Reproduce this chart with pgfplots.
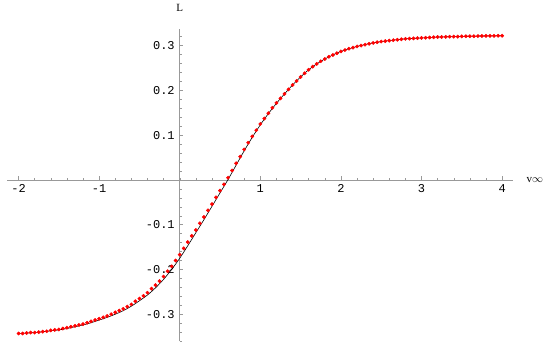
\documentclass[border=0pt]{standalone}
\usepackage{fontspec}
\setmainfont{Liberation Serif}
\setmonofont{Liberation Mono}
\usepackage{pgfplots}
\pgfplotsset{compat=1.18}

% red sample points (step 0.05)
\pgfplotstableread{
x y
-2.00 -0.343
-1.95 -0.343
-1.90 -0.342
-1.85 -0.341
-1.80 -0.341
-1.75 -0.340
-1.70 -0.339
-1.65 -0.338
-1.60 -0.336
-1.55 -0.335
-1.50 -0.334
-1.45 -0.332
-1.40 -0.330
-1.35 -0.328
-1.30 -0.326
-1.25 -0.324
-1.20 -0.322
-1.15 -0.319
-1.10 -0.316
-1.05 -0.313
-1.00 -0.310
-0.95 -0.307
-0.90 -0.304
-0.85 -0.300
-0.80 -0.296
-0.75 -0.292
-0.70 -0.288
-0.65 -0.283
-0.60 -0.278
-0.55 -0.271
-0.50 -0.265
-0.45 -0.259
-0.40 -0.252
-0.35 -0.243
-0.30 -0.235
-0.25 -0.226
-0.20 -0.216
-0.15 -0.204
-0.10 -0.193
-0.05 -0.180
0.00 -0.167
0.05 -0.153
0.10 -0.139
0.15 -0.125
0.20 -0.112
0.25 -0.097
0.30 -0.083
0.35 -0.068
0.40 -0.054
0.45 -0.039
0.50 -0.024
0.55 -0.010
0.60 0.005
0.65 0.021
0.70 0.037
0.75 0.052
0.80 0.068
0.85 0.083
0.90 0.097
0.95 0.111
1.00 0.125
1.05 0.137
1.10 0.149
1.15 0.161
1.20 0.172
1.25 0.182
1.30 0.192
1.35 0.202
1.40 0.212
1.45 0.221
1.50 0.230
1.55 0.238
1.60 0.246
1.65 0.253
1.70 0.259
1.75 0.265
1.80 0.270
1.85 0.275
1.90 0.279
1.95 0.283
2.00 0.287
2.05 0.290
2.10 0.293
2.15 0.2955
2.20 0.298
2.25 0.300
2.30 0.302
2.35 0.304
2.40 0.306
2.45 0.3075
2.50 0.309
2.55 0.310
2.60 0.311
2.65 0.312
2.70 0.313
2.75 0.314
2.80 0.315
2.85 0.3155
2.90 0.316
2.95 0.3165
3.00 0.317
3.05 0.3175
3.10 0.318
3.15 0.3185
3.20 0.319
3.25 0.319
3.30 0.3195
3.35 0.3198
3.40 0.320
3.45 0.320
3.50 0.3205
3.55 0.3208
3.60 0.321
3.65 0.321
3.70 0.3212
3.75 0.3214
3.80 0.3215
3.85 0.3216
3.90 0.3218
3.95 0.3219
4.00 0.322
}\dots

% black curve
\pgfplotstableread{
x y
-2.00 -0.343
-1.90 -0.342
-1.80 -0.341
-1.70 -0.339
-1.60 -0.337
-1.50 -0.335
-1.40 -0.332
-1.30 -0.328
-1.20 -0.324
-1.10 -0.319
-1.00 -0.313
-0.90 -0.307
-0.80 -0.300
-0.70 -0.292
-0.60 -0.282
-0.50 -0.270
-0.40 -0.257
-0.30 -0.241
-0.20 -0.222
-0.10 -0.200
0.00 -0.175
0.10 -0.147
0.20 -0.118
0.30 -0.089
0.40 -0.059
0.50 -0.029
0.60 0.001
0.70 0.033
0.80 0.065
0.90 0.095
1.00 0.123
1.10 0.148
1.20 0.171
1.30 0.192
1.40 0.212
1.50 0.230
1.60 0.246
1.70 0.259
1.80 0.270
1.90 0.279
2.00 0.287
2.20 0.298
2.40 0.306
2.60 0.311
2.80 0.315
3.00 0.317
3.20 0.319
3.40 0.320
3.60 0.321
3.80 0.3215
4.00 0.322
}\curve

\begin{document}
\begin{tikzpicture}
\begin{axis}[
  scale only axis,
  width=506.4pt, height=312.7pt,
  xmin=-2.14, xmax=4.14,
  ymin=-0.36, ymax=0.338,
  axis lines=middle,
  axis line style={gray!80, line width=0.5pt, -},
  clip=false,
  xtick={-2,-1,1,2,3,4},
  ytick={-0.3,-0.2,-0.1,0.1,0.2,0.3},
  minor xtick={-2,-1.8,...,4},
  minor ytick={-0.36,-0.34,...,0.33},
  tick align=inside,
  major tick length=3.7pt,
  minor tick length=2.3pt,
  tick style={gray!80, line width=0.4pt},
  /pgf/number format/assume math mode=true,
  /pgf/number format/fixed,
  /pgf/number format/precision=1,
  ticklabel style={font=\ttfamily\fontsize{12}{14}\selectfont, text=black},
  xticklabel style={yshift=-1pt},
  yticklabel style={xshift=-1.5pt},
  xlabel={v$\infty$},
  ylabel={L},
  every axis x label/.style={at={(axis cs:4.26,0)}, anchor=west,
    font=\fontsize{11}{13}\selectfont},
  every axis y label/.style={at={(axis cs:0,0.385)}, anchor=center,
    font=\fontsize{11}{13}\selectfont},
]
\addplot[only marks, mark=*, mark size=1.7pt, color=red] table {\dots};
\addplot[black, line width=0.6pt, smooth] table {\curve};
\coordinate (bbl) at (axis cs:-2.23,-0.3616);
\coordinate (btr) at (axis cs:4.644,0.4018);
\end{axis}
\pgfresetboundingbox
\useasboundingbox (bbl) rectangle (btr);
\end{tikzpicture}
\end{document}
